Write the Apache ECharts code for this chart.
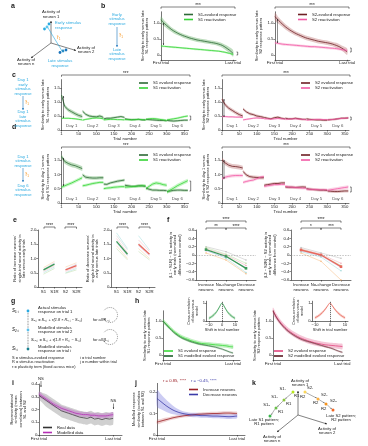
<!DOCTYPE html>
<html><head><meta charset="utf-8">
<script src="https://cdn.jsdelivr.net/npm/echarts/dist/echarts.min.js"></script>
<style>html,body{margin:0;padding:0;background:#fff}#c{width:368px;height:446px}</style>
</head><body><div id="c"></div>
<script>
const FONT = '"Liberation Sans", Arial, sans-serif';
const CYAN = '#29a9e0', ORANGE = '#f7941d';

// ================= DATA =================
// panel b, h, i, j: sample positions (% of trials, first -> last)
const pct = [0,5,10,15,20,25,30,35,40,45,50,55,60,65,70,75,80,85,90,95,100];
const b1Evoked    = [1.10,0.98,0.88,0.79,0.72,0.66,0.61,0.57,0.53,0.50,0.47,0.45,0.43,0.41,0.39,0.37,0.34,0.30,0.23,0.15,0.05];
const b1EvokedSem = [0.10,0.09,0.08,0.07,0.07,0.06,0.06,0.06,0.06,0.06,0.06,0.06,0.06,0.06,0.06,0.06,0.07,0.07,0.08,0.09,0.10];
const b1React     = [0.28,0.27,0.26,0.25,0.24,0.23,0.22,0.21,0.20,0.19,0.18,0.17,0.16,0.15,0.14,0.13,0.12,0.10,0.08,0.05,0.02];
const b1ReactSem  = [0.03,0.03,0.03,0.03,0.03,0.03,0.03,0.03,0.03,0.03,0.03,0.03,0.03,0.03,0.03,0.03,0.03,0.03,0.03,0.03,0.03];
const b2Evoked    = [1.20,1.08,0.97,0.87,0.79,0.72,0.66,0.61,0.56,0.52,0.49,0.46,0.43,0.41,0.39,0.37,0.34,0.30,0.25,0.18,0.10];
const b2EvokedSem = [0.12,0.10,0.09,0.08,0.08,0.07,0.07,0.07,0.07,0.07,0.07,0.07,0.07,0.07,0.07,0.07,0.07,0.08,0.08,0.09,0.10];
const b2React     = [0.38,0.36,0.34,0.33,0.32,0.31,0.30,0.29,0.28,0.27,0.26,0.26,0.25,0.24,0.23,0.22,0.21,0.20,0.18,0.16,0.14];
const b2ReactSem  = [0.04,0.04,0.04,0.04,0.04,0.04,0.04,0.04,0.04,0.04,0.04,0.04,0.04,0.04,0.04,0.04,0.04,0.04,0.04,0.04,0.04];

// panels c, d: six days of 60 trials, sampled at these trials within each day
const dayNames = ['Day 1','Day 2','Day 3','Day 4','Day 5','Day 6'];
const trialsPerDay = 60;
const trialOffsets = [1,10,20,30,40,50,60];
const trialTicks = [1,50,100,150,200,250,300,350];
const c1Evoked = [[1.25,0.85,0.72,0.65,0.58,0.52,0.48],[0.67,0.56,0.50,0.48,0.47,0.50,0.45],[0.40,0.42,0.42,0.44,0.46,0.48,0.45],[0.40,0.38,0.37,0.37,0.38,0.36,0.36],[0.38,0.37,0.36,0.35,0.34,0.34,0.33],[0.34,0.33,0.32,0.33,0.34,0.35,0.35]];
const c1React  = [[0.42,0.42,0.42,0.41,0.40,0.38,0.36],[0.35,0.38,0.40,0.42,0.43,0.42,0.40],[0.36,0.37,0.38,0.38,0.37,0.37,0.36],[0.37,0.37,0.36,0.37,0.38,0.37,0.36],[0.38,0.40,0.41,0.40,0.38,0.36,0.34],[0.36,0.38,0.40,0.42,0.45,0.48,0.50]];
const c1EvokedSem = [0.07,0.05,0.04,0.04,0.04,0.04];
const c1ReactSem  = [0.03,0.03,0.03,0.03,0.04,0.04];
const c2Evoked = [[1.10,0.90,0.78,0.70,0.62,0.55,0.50],[0.75,0.65,0.58,0.55,0.50,0.48,0.45],[0.45,0.42,0.40,0.44,0.46,0.42,0.40],[0.42,0.40,0.40,0.42,0.40,0.38,0.38],[0.40,0.38,0.37,0.36,0.36,0.35,0.35],[0.36,0.37,0.38,0.40,0.42,0.42,0.43]];
const c2React  = [[0.48,0.48,0.47,0.47,0.46,0.46,0.45],[0.36,0.38,0.40,0.42,0.43,0.42,0.41],[0.40,0.40,0.39,0.40,0.41,0.40,0.40],[0.38,0.39,0.40,0.40,0.39,0.38,0.37],[0.35,0.36,0.37,0.38,0.38,0.37,0.37],[0.36,0.37,0.38,0.40,0.41,0.42,0.43]];
const c2EvokedSem = [0.07,0.05,0.04,0.04,0.04,0.04];
const c2ReactSem  = [0.03,0.03,0.03,0.03,0.03,0.03];
const d1Evoked = [[1.62,1.45,1.38,1.33,1.30,1.25,1.20],[0.98,0.90,0.88,0.87,0.87,0.88,0.88],[0.66,0.65,0.70,0.73,0.76,0.78,0.80],[0.62,0.60,0.58,0.58,0.60,0.60,0.58],[0.52,0.48,0.45,0.45,0.44,0.44,0.43],[0.40,0.42,0.44,0.45,0.45,0.44,0.44]];
const d1React  = [[0.55,0.60,0.65,0.70,0.76,0.82,0.88],[0.60,0.62,0.65,0.68,0.70,0.72,0.72],[0.50,0.52,0.53,0.55,0.56,0.57,0.57],[0.55,0.56,0.57,0.58,0.59,0.60,0.60],[0.50,0.58,0.66,0.70,0.68,0.64,0.62],[0.38,0.45,0.52,0.60,0.66,0.72,0.78]];
const d1EvokedSem = [0.08,0.06,0.05,0.05,0.05,0.05];
const d1ReactSem  = [0.06,0.05,0.05,0.05,0.06,0.07];
const d2Evoked = [[1.50,1.40,1.32,1.28,1.27,1.25,1.22],[1.10,0.98,0.92,0.90,0.89,0.88,0.88],[0.62,0.64,0.66,0.68,0.68,0.70,0.70],[0.56,0.55,0.55,0.54,0.55,0.56,0.55],[0.50,0.48,0.47,0.46,0.45,0.45,0.44],[0.42,0.41,0.40,0.40,0.41,0.42,0.42]];
const d2React  = [[0.85,0.90,0.93,0.95,0.96,0.96,0.96],[0.72,0.75,0.78,0.80,0.85,0.90,0.92],[0.58,0.60,0.62,0.64,0.64,0.65,0.65],[0.58,0.56,0.55,0.54,0.53,0.52,0.52],[0.48,0.48,0.47,0.47,0.46,0.46,0.46],[0.44,0.46,0.48,0.50,0.52,0.54,0.56]];
const d2EvokedSem = [0.08,0.06,0.05,0.05,0.05,0.05];
const d2ReactSem  = [0.06,0.05,0.05,0.05,0.05,0.06];

// panel e
const eCats = ['S1','S1R','S2','S2R'];
const e1S1Mice = [[0.50,0.70],[0.55,0.75],[0.62,0.85],[0.68,0.90],[0.45,0.65],[0.58,0.82]];
const e1S2Mice = [[0.50,0.65],[0.55,0.70],[0.62,0.80],[0.70,0.85],[0.48,0.60],[0.60,0.78]];
const e1S1Mean = [0.60,0.80];
const e1S2Mean = [0.60,0.75];
const e2S1Mice = [[1.90,1.35],[1.70,1.20],[1.55,1.10],[1.45,1.00],[1.35,0.95],[1.80,1.30]];
const e2S2Mice = [[1.80,1.30],[1.65,1.25],[1.45,1.10],[1.35,1.00],[1.25,0.95],[1.55,1.15]];
const e2S1Mean = [1.60,1.15];
const e2S2Mean = [1.50,1.15];
const miceColors = ['#9fdcdc','#f3b3bf','#c9b7e3','#f7cc9f','#bcdca8','#cfcfcf'];

// panel f
const fCats = ['Increase\nneurons','No-change\nneurons','Decrease\nneurons'];
const f1Mice = [[0.20,0.08,-0.12],[0.15,0.00,-0.25],[0.10,-0.05,-0.30],[0.05,-0.12,-0.45],[0.12,-0.08,-0.42],[0.18,0.02,-0.20]];
const f1Mean = [0.13,-0.03,-0.32];
const f2Mice = [[0.18,0.05,-0.08],[0.15,0.02,-0.20],[0.10,-0.02,-0.30],[0.05,-0.15,-0.60],[0.08,-0.05,-0.38],[0.14,0.00,-0.25]];
const f2Mean = [0.12,0.00,-0.28];
const fMiceColors = ['#bdbdbd','#f2a7b5','#c5b3e6','#f7b87a','#9fd8d8','#b7dca0'];

// panel h
const h1Evoked    = [1.00,0.90,0.80,0.70,0.62,0.55,0.50,0.46,0.42,0.39,0.36,0.34,0.33,0.32,0.31,0.30,0.29,0.28,0.27,0.25,0.24];
const h1EvokedSem = [0.06,0.06,0.06,0.06,0.06,0.06,0.06,0.06,0.06,0.06,0.06,0.06,0.06,0.06,0.06,0.06,0.06,0.06,0.06,0.06,0.06];
const h1Model     = [1.00,0.88,0.77,0.67,0.59,0.52,0.47,0.43,0.39,0.36,0.33,0.31,0.29,0.27,0.25,0.23,0.20,0.17,0.13,0.09,0.06];
const h1ModelSem  = [0.03,0.03,0.03,0.03,0.03,0.03,0.03,0.03,0.03,0.03,0.03,0.03,0.03,0.03,0.03,0.03,0.03,0.03,0.03,0.03,0.03];
const h2Evoked    = [1.30,1.12,0.98,0.86,0.76,0.68,0.61,0.55,0.50,0.46,0.42,0.39,0.36,0.34,0.32,0.30,0.29,0.28,0.27,0.26,0.25];
const h2EvokedSem = [0.10,0.09,0.08,0.08,0.08,0.08,0.08,0.08,0.08,0.08,0.08,0.08,0.08,0.08,0.08,0.08,0.08,0.08,0.08,0.08,0.08];
const h2Model     = [1.30,1.10,0.95,0.83,0.73,0.65,0.58,0.52,0.47,0.43,0.40,0.37,0.34,0.31,0.28,0.25,0.22,0.19,0.15,0.11,0.08];
const h2ModelSem  = [0.03,0.03,0.03,0.03,0.03,0.03,0.03,0.03,0.03,0.03,0.03,0.03,0.03,0.03,0.03,0.03,0.03,0.03,0.03,0.03,0.03];
const shifts   = [-10,-8,-6,-4,-2,0,2,4,6,8,10];
const xcorr1   = [0.15,0.24,0.36,0.53,0.77,1.00,0.77,0.53,0.36,0.24,0.15];
const xcorr1Sem= [0.08,0.08,0.08,0.07,0.05,0.00,0.05,0.07,0.08,0.08,0.08];
const xcorr2   = [0.18,0.27,0.40,0.57,0.79,1.00,0.79,0.57,0.40,0.27,0.18];
const xcorr2Sem= [0.08,0.08,0.08,0.07,0.05,0.00,0.05,0.07,0.08,0.08,0.08];

// panel i
const iReal     = [0.31,0.29,0.27,0.25,0.23,0.21,0.19,0.18,0.17,0.16,0.15,0.14,0.135,0.13,0.14,0.125,0.13,0.12,0.13,0.125,0.13];
const iRealSem  = [0.03,0.04,0.05,0.05,0.05,0.05,0.05,0.05,0.05,0.05,0.05,0.05,0.05,0.05,0.05,0.05,0.05,0.05,0.05,0.05,0.05];
const iModel    = [0.32,0.30,0.28,0.26,0.24,0.225,0.21,0.20,0.19,0.18,0.17,0.165,0.16,0.16,0.155,0.155,0.15,0.15,0.15,0.155,0.16];
const iModelSem = [0.02,0.02,0.02,0.02,0.02,0.02,0.02,0.02,0.02,0.02,0.02,0.02,0.02,0.02,0.02,0.02,0.02,0.02,0.02,0.02,0.02];
// panel j
const jIncrease    = [0.060,0.065,0.070,0.075,0.080,0.084,0.087,0.090,0.092,0.094,0.096,0.097,0.098,0.099,0.100,0.100,0.101,0.102,0.102,0.101,0.100];
const jIncreaseSem = [0.010,0.010,0.010,0.008,0.008,0.008,0.008,0.008,0.008,0.008,0.008,0.008,0.008,0.008,0.008,0.008,0.008,0.008,0.008,0.008,0.008];
const jDecrease    = [0.170,0.155,0.140,0.127,0.116,0.108,0.102,0.098,0.095,0.093,0.092,0.090,0.090,0.089,0.088,0.088,0.087,0.086,0.085,0.086,0.088];
const jDecreaseSem = [0.040,0.035,0.030,0.025,0.020,0.015,0.012,0.010,0.010,0.010,0.010,0.010,0.010,0.010,0.010,0.010,0.010,0.010,0.010,0.010,0.010];

// ================= HELPERS =================
function merge(a, b) {
  const o = Object.assign({}, a);
  for (const k in b) {
    if (b[k] && typeof b[k] === 'object' && !Array.isArray(b[k]) && a[k] && typeof a[k] === 'object' && !Array.isArray(a[k])) o[k] = merge(a[k], b[k]);
    else o[k] = b[k];
  }
  return o;
}
const AX = {
  axisLine: {show: true, onZero: false, lineStyle: {color: '#1a1a1a', width: 0.6}},
  axisTick: {show: true, length: 1.6, lineStyle: {color: '#1a1a1a', width: 0.5}},
  axisLabel: {fontSize: 4.3, color: '#1a1a1a', fontFamily: FONT, margin: 1.5},
  splitLine: {show: false},
  nameTextStyle: {fontSize: 4, color: '#1a1a1a', fontFamily: FONT, lineHeight: 4.6}
};
const grids = [], xAxes = [], yAxes = [], series = [], legends = [], G = [];
function panel(rect, xa, ya) {
  grids.push(Object.assign({containLabel: false}, rect));
  const gi = grids.length - 1;
  xAxes.push(merge(AX, Object.assign({gridIndex: gi}, xa)));
  yAxes.push(merge(AX, Object.assign({gridIndex: gi}, ya)));
  return gi;
}
function lineS(gi, name, pts, color, w, extra) {
  return Object.assign({type: 'line', name, xAxisIndex: gi, yAxisIndex: gi, data: pts, symbol: 'none', showSymbol: false,
    lineStyle: {color, width: w}, itemStyle: {color}, connectNulls: false, z: 3, silent: true}, extra || {});
}
function bandS(gi, segs, fill, smooth) {
  const flat = [];
  segs.forEach(seg => seg.forEach(p => flat.push(p)));
  return {type: 'custom', xAxisIndex: gi, yAxisIndex: gi, silent: true, z: 1, data: flat,
    encode: {x: 0, y: [1, 2]},
    renderItem: (params, api) => {
      if (params.dataIndex !== 0) return null;
      return {type: 'group', children: segs.map(seg => {
        const top = seg.map(p => api.coord([p[0], p[2]]));
        const bot = seg.map(p => api.coord([p[0], p[1]])).reverse();
        return {type: 'polygon', shape: {points: top.concat(bot), smooth: smooth || 0}, style: {fill}};
      })};
    }};
}
const curve = (xs, ys) => xs.map((x, i) => [x, ys[i]]);
const curveBand = (xs, ys, e) => [xs.map((x, i) => [x, ys[i] - e[i], ys[i] + e[i]])];
function dayLine(arr) {
  const pts = [];
  arr.forEach((day, d) => { day.forEach((v, k) => pts.push([d * trialsPerDay + trialOffsets[k], v])); pts.push([d * trialsPerDay + trialsPerDay + 0.5, '-']); });
  return pts;
}
const dayBand = (arr, sem) => arr.map((day, d) => day.map((v, k) => [d * trialsPerDay + trialOffsets[k], v - sem[d], v + sem[d]]));
function legendAt(left, top, names) {
  legends.push({left, top, orient: 'vertical', data: names, itemWidth: 9, itemHeight: 1.6, itemGap: 1, icon: 'rect', padding: 0,
    selectedMode: false, textStyle: {fontSize: 4.2, fontFamily: FONT, color: '#1a1a1a'}});
}
// graphic helpers
function txt(x, y, s, o) {
  G.push({type: 'text', x, y, z: 100, silent: true, style: Object.assign({text: s, fontSize: 4.2, fontFamily: FONT, fill: '#1a1a1a', align: 'left', verticalAlign: 'middle', lineHeight: 4.6}, o || {})});
}
function ln(x1, y1, x2, y2, o) {
  G.push({type: 'line', z: 100, silent: true, shape: {x1, y1, x2, y2}, style: Object.assign({stroke: '#1a1a1a', lineWidth: 0.55}, o || {})});
}
function head(x1, y1, x2, y2, color, s) {
  const a = Math.atan2(y2 - y1, x2 - x1); s = s || 2.2;
  G.push({type: 'polygon', z: 100, silent: true, shape: {points: [[x2, y2], [x2 - s * Math.cos(a - 0.45), y2 - s * Math.sin(a - 0.45)], [x2 - s * Math.cos(a + 0.45), y2 - s * Math.sin(a + 0.45)]]}, style: {fill: color}});
}
function arrow(x1, y1, x2, y2, color, w, s) { ln(x1, y1, x2, y2, {stroke: color || '#1a1a1a', lineWidth: w || 0.55}); head(x1, y1, x2, y2, color || '#1a1a1a', s); }
function dblArrow(x, y1, y2) { ln(x, y1, x, y2, {lineWidth: 0.5}); head(x, y2, x, y1, '#111', 1.6); head(x, y1, x, y2, '#111', 1.6); }
function dot(cx, cy, fill, r) { G.push({type: 'circle', z: 100, silent: true, shape: {cx, cy, r: r || 1.4}, style: {fill}}); }
function bracket(x1, x2, y, label) { ln(x1, y, x2, y); ln(x1, y, x1, y + 1.8); ln(x2, y, x2, y + 1.8); txt((x1 + x2) / 2, y - 1.6, label, {align: 'center', fontSize: 4.6}); }
function endBracket(x, y1, y2) { ln(x, y1, x + 1.2, y1); ln(x + 1.2, y1, x + 1.2, y2); ln(x, y2, x + 1.2, y2); }
function letter(x, y, s) { txt(x, y, s, {fontWeight: 'bold', fontSize: 7}); }

const firstLast = {min: 0, axisTick: {customValues: [0, 100]}, axisLabel: {customValues: [0, 100], formatter: v => v === 0 ? 'First trial' : 'Last trial'}};
const simTicks = {axisTick: {customValues: [0, 0.5, 1]}, axisLabel: {customValues: [0, 0.5, 1], formatter: v => v === 0 ? '0' : v.toFixed(1)}};
const dayTicks = {axisTick: {customValues: [0, 0.5, 1, 1.5]}, axisLabel: {customValues: [0, 0.5, 1, 1.5], formatter: v => v === 0 ? '0' : v.toFixed(1)}};
const trialAxis = {type: 'value', min: 1, max: 362, name: 'Trial number', nameLocation: 'middle', nameGap: 6.5, nameTextStyle: {fontSize: 4.3},
  axisTick: {customValues: trialTicks}, axisLabel: {customValues: trialTicks}};

const S1E = '#2d6a36', S1R = '#35d435', S2E = '#6e1f24', S2R = '#f25aa6';
const S1Eb = 'rgba(110,180,110,0.45)', S1Rb = 'rgba(90,230,90,0.35)', S2Eb = 'rgba(190,120,120,0.42)', S2Rb = 'rgba(245,140,190,0.38)';

// ================= PANEL b =================
[[161, 'S1', b1Evoked, b1EvokedSem, b1React, b1ReactSem, S1E, S1Eb, S1R, S1Rb], [275, 'S2', b2Evoked, b2EvokedSem, b2React, b2ReactSem, S2E, S2Eb, S2R, S2Rb]].forEach(c => {
  const gi = panel({left: c[0], top: 11.8, width: 75, height: 48},
    Object.assign({type: 'value', max: 104}, firstLast),
    Object.assign({type: 'value', min: -0.15, max: 1.35, name: 'Similarity to early versus late\n' + c[1] + ' response pattern', nameLocation: 'middle', nameRotate: 90, nameGap: 9}, simTicks));
  series.push(bandS(gi, curveBand(pct, c[2], c[3]), c[7], 0.3));
  series.push(bandS(gi, curveBand(pct, c[4], c[5]), c[9], 0.3));
  series.push(lineS(gi, c[1] + '-evoked response', curve(pct, c[2]), c[6], 0.8, {smooth: 0.3}));
  series.push(lineS(gi, c[1] + ' reactivation', curve(pct, c[4]), c[8], 0.8, {smooth: 0.3}));
  legendAt(c[0] + 23, 12.5, [c[1] + '-evoked response', c[1] + ' reactivation']);
});

// ================= PANELS c, d =================
[[61.5, 79.6, 50.4, 'S1', c1Evoked, c1EvokedSem, c1React, c1ReactSem, S1E, S1Eb, S1R, S1Rb, 'Similarity to early versus late\nS1 response pattern', 139, 81],
 [222, 79.6, 50.4, 'S2', c2Evoked, c2EvokedSem, c2React, c2ReactSem, S2E, S2Eb, S2R, S2Rb, 'Similarity to early versus late\nS2 response pattern', 301, 81],
 [61.5, 151.4, 51.6, 'S1', d1Evoked, d1EvokedSem, d1React, d1ReactSem, S1E, S1Eb, S1R, S1Rb, 'Similarity to day 1 versus\nday 6 S1 response pattern', 139, 153],
 [222, 151.4, 51.6, 'S2', d2Evoked, d2EvokedSem, d2React, d2ReactSem, S2E, S2Eb, S2R, S2Rb, 'Similarity to day 1 versus\nday 6 S2 response pattern', 301, 153]].forEach(c => {
  const gi = panel({left: c[0], top: c[1], width: 127, height: c[2]}, trialAxis,
    Object.assign({type: 'value', min: 0, max: 1.8, name: c[12], nameLocation: 'middle', nameRotate: 90, nameGap: 9}, dayTicks));
  series.push(bandS(gi, dayBand(c[4], c[5]), c[9]));
  series.push(bandS(gi, dayBand(c[6], c[7]), c[11]));
  series.push(lineS(gi, c[3] + ' evoked response', dayLine(c[4]), c[8], 0.8));
  series.push(lineS(gi, c[3] + ' reactivation', dayLine(c[6]), c[10], 0.8));
  series.push({type: 'scatter', xAxisIndex: gi, yAxisIndex: gi, silent: true, symbolSize: 1, itemStyle: {color: 'rgba(0,0,0,0)'},
    data: dayNames.map((n, d) => [d * trialsPerDay + 30, 0.15]),
    label: {show: true, position: 'inside', formatter: p => dayNames[p.dataIndex], fontSize: 4.3, color: '#1a1a1a', fontFamily: FONT}});
  legendAt(c[13], c[14], [c[3] + ' evoked response', c[3] + ' reactivation']);
});

// ================= PANEL e =================
[[38, 'Ratio of increase neurons\'\nsingle-trial neural activity in\nlate versus early trials', e1S1Mice, e1S2Mice, e1S1Mean, e1S2Mean],
 [111, 'Ratio of decrease neurons\'\nsingle-trial neural activity in\nearly versus late trials', e2S1Mice, e2S2Mice, e2S1Mean, e2S2Mean]].forEach(c => {
  const gi = panel({left: c[0], top: 230, width: 44, height: 57},
    {type: 'category', data: eCats, boundaryGap: true, axisTick: {alignWithLabel: true, interval: 0}, axisLabel: {margin: 2.5, interval: 0}},
    {type: 'value', min: 0, max: 2, interval: 0.5, name: c[1], nameLocation: 'middle', nameRotate: 90, nameGap: 10, axisLabel: {formatter: v => v === 0 ? '0' : v.toFixed(1)}});
  c[2].forEach((m, k) => series.push(lineS(gi, 'mouse', [m[0], m[1], '-', '-'], miceColors[k], 0.5, {z: 2})));
  c[3].forEach((m, k) => series.push(lineS(gi, 'mouse', ['-', '-', m[0], m[1]], miceColors[k], 0.5, {z: 2})));
  series.push(lineS(gi, 'S1 mean', [c[4][0], c[4][1], '-', '-'], '#3a9a57', 1.3, {z: 4}));
  series.push(lineS(gi, 'S2 mean', ['-', '-', c[5][0], c[5][1]], '#e8685c', 1.3, {z: 4}));
});
bracket(44, 55, 227, '****'); bracket(65, 76.5, 227, '****');
bracket(117, 128, 227, '****'); bracket(139, 150, 227, '****');

// ================= PANEL f =================
[[196, f1Mice, f1Mean, '#3a9a57', '(L1 − S1R) − S1 activity in\nearly trials (normalized\ndifference from control)'],
 [291, f2Mice, f2Mean, '#e8685c', '(L2 − S2R) − S2 activity in\nearly trials (normalized\ndifference from control)']].forEach(c => {
  const gi = panel({left: c[0], top: 230, width: 60, height: 50},
    {type: 'category', data: fCats, boundaryGap: true, axisTick: {alignWithLabel: true, interval: 0}, axisLabel: {margin: 2.5, lineHeight: 4.6, fontSize: 4.2, interval: 0, hideOverlap: false}},
    {type: 'value', min: -0.6, max: 0.6, name: c[4], nameLocation: 'middle', nameRotate: 90, nameGap: 11,
      axisTick: {customValues: [-0.6, -0.4, -0.2, 0, 0.2, 0.4, 0.6]},
      axisLabel: {customValues: [-0.6, -0.4, -0.2, 0, 0.2, 0.4, 0.6], formatter: v => Math.abs(v) < 1e-9 ? '0' : v.toFixed(1).replace('-', '−')}});
  c[1].forEach((m, k) => series.push(lineS(gi, 'mouse', m, fMiceColors[k], 0.5, {z: 2, symbol: 'circle', showSymbol: true, symbolSize: 1.5})));
  series.push(lineS(gi, 'mean', c[2], c[3], 1.3, {z: 4, symbol: 'rect', showSymbol: true, symbolSize: 2.6,
    markLine: {silent: true, symbol: ['none', 'none'], label: {show: false}, lineStyle: {type: [1.5, 1.2], color: '#8a8a8a', width: 0.5}, data: [{yAxis: 0}]}}));
});
bracket(206, 246, 221, '****'); bracket(206, 226, 228, '**'); bracket(226, 246, 228, '****');
bracket(301, 341, 221, '****'); bracket(301, 321, 228, '*'); bracket(321, 341, 228, '***');

// ================= PANEL h =================
[[163, 110, 'S1', h1Evoked, h1EvokedSem, h1Model, h1ModelSem, '#3adb3a', 'rgba(100,220,100,0.4)', '#1f5d2c', 'rgba(60,120,70,0.22)', 164, 349],
 [273, 111, 'S2', h2Evoked, h2EvokedSem, h2Model, h2ModelSem, '#e2467f', 'rgba(230,120,160,0.42)', '#5a1a22', 'rgba(110,40,50,0.2)', 274, 349]].forEach(c => {
  const gi = panel({left: c[0], top: 310.8, width: 77, height: 49.3},
    Object.assign({type: 'value', max: c[1]}, firstLast),
    Object.assign({type: 'value', min: -0.15, max: 1.3, name: 'Similarity to early versus late\n' + c[2] + ' response pattern', nameLocation: 'middle', nameRotate: 90, nameGap: 9}, simTicks));
  series.push(bandS(gi, curveBand(pct, c[3], c[4]), c[8], 0.3));
  series.push(bandS(gi, curveBand(pct, c[5], c[6]), c[10], 0.3));
  series.push(lineS(gi, c[2] + ' evoked response ', curve(pct, c[3]), c[7], 0.8, {smooth: 0.3}));
  series.push(lineS(gi, c[2] + ' modelled evoked response', curve(pct, c[5]), c[9], 0.6, {smooth: 0.3}));
  legendAt(c[11], c[12], [c[2] + ' evoked response ', c[2] + ' modelled evoked response']);
});
// insets
[[206.4, 31.2, xcorr1, xcorr1Sem, '#3a9a57', 'rgba(120,200,130,0.45)'], [312, 36, xcorr2, xcorr2Sem, '#e8685c', 'rgba(240,150,140,0.45)']].forEach(c => {
  const gi = panel({left: c[0], top: 301.2, width: c[1], height: 19.8},
    {type: 'value', min: -12, max: 12, name: 'Shift in trial number', nameLocation: 'middle', nameGap: 6, nameTextStyle: {fontSize: 4},
      axisTick: {customValues: [-10, 0, 10]}, axisLabel: {customValues: [-10, 0, 10], formatter: v => String(v).replace('-', '−'), fontSize: 4}},
    {type: 'value', min: 0, max: 1.1, name: 'Cross-correlation\nof data versus\nmodel', nameLocation: 'middle', nameRotate: 90, nameGap: 4.5, nameTextStyle: {fontSize: 3.6, lineHeight: 4},
      axisTick: {customValues: [0, 1]}, axisLabel: {customValues: [0, 1], fontSize: 4}});
  series.push(bandS(gi, curveBand(shifts, c[2], c[3]), c[5], 0.3));
  series.push(lineS(gi, 'xcorr', curve(shifts, c[2]), c[4], 0.8, {smooth: 0.3,
    markLine: {silent: true, symbol: ['none', 'none'], label: {show: false}, lineStyle: {type: [1.2, 0.8], color: '#111', width: 0.6}, data: [{xAxis: 0}]}}));
});

// ================= PANEL i =================
(() => {
  const gi = panel({left: 39, top: 384, width: 83, height: 51},
    Object.assign({type: 'value', max: 112}, firstLast),
    {type: 'value', min: 0, max: 0.4, interval: 0.1, name: 'Representational\nsimilarity (mean\ncorrelation) between\nS1 and S2', nameLocation: 'middle', nameRotate: 90, nameGap: 8.5,
      axisLabel: {formatter: v => v === 0 ? '0' : v.toFixed(1)}});
  series.push(bandS(gi, curveBand(pct, iReal, iRealSem), 'rgba(150,150,150,0.45)', 0.2));
  series.push(bandS(gi, curveBand(pct, iModel, iModelSem), 'rgba(190,100,200,0.4)', 0.3));
  series.push(lineS(gi, 'Real data', curve(pct, iReal), '#333333', 0.7));
  series.push(lineS(gi, 'Modelled data', curve(pct, iModel), '#b52fb5', 0.8, {smooth: 0.3}));
  legendAt(43, 425.5, ['Real data', 'Modelled data']);
})();

// ================= PANEL j =================
(() => {
  const gi = panel({left: 157, top: 383.4, width: 88, height: 51.6},
    Object.assign({type: 'value', max: 110}, firstLast),
    {type: 'value', min: 0, max: 0.24, name: 'Modelled response\nsimilarity (correlation\nbetween S1 and S2)', nameLocation: 'middle', nameRotate: 90, nameGap: 8.5,
      axisTick: {customValues: [0, 0.1, 0.2]}, axisLabel: {customValues: [0, 0.1, 0.2], formatter: v => v === 0 ? '0' : v.toFixed(1)}});
  series.push(bandS(gi, curveBand(pct, jIncrease, jIncreaseSem), 'rgba(200,100,100,0.3)', 0.3));
  series.push(bandS(gi, curveBand(pct, jDecrease, jDecreaseSem), 'rgba(110,110,220,0.35)', 0.3));
  series.push(lineS(gi, 'Increase neurons', curve(pct, jIncrease), '#9b1f26', 0.8, {smooth: 0.3}));
  series.push(lineS(gi, 'Decrease neurons', curve(pct, jDecrease), '#3b3ba8', 0.8, {smooth: 0.3}));
  legendAt(189, 387.5, ['Increase neurons', 'Decrease neurons']);
})();

// ================= ANNOTATIONS / SCHEMATICS =================
letter(11, 6, 'a'); letter(101, 6, 'b'); letter(12, 75, 'c'); letter(12, 127, 'd'); letter(13, 220, 'e');
letter(167, 220, 'f'); letter(11, 301, 'g'); letter(135, 301, 'h'); letter(12, 383, 'i'); letter(135, 383, 'j'); letter(252, 383, 'k');

// panel a
arrow(51, 43, 51, 21); arrow(51, 43, 76, 50.5); arrow(51, 43, 31, 58);
txt(51, 14.5, 'Activity of\nneuron 1', {align: 'center'});
txt(86, 50, 'Activity of\nneuron 2', {align: 'center'});
txt(26, 62, 'Activity of\nneuron n', {align: 'center'});
ln(47.5, 27, 62, 51, {stroke: CYAN, lineWidth: 0.6});
dot(49, 24, CYAN); dot(47, 27, '#5bc8ef'); dot(44.5, 29, CYAN);
dot(60, 52.5, '#1b75bc'); dot(63, 51, '#2a8fc7'); dot(66, 50, '#1b75bc');
txt(55, 25.5, 'Early stimulus\nresponse', {fill: CYAN});
txt(60, 63.5, 'Late stimulus\nresponse', {fill: CYAN, align: 'center'});
txt(57, 38, 'r̄₁', {fill: ORANGE, fontSize: 5});
// panel b schematic
txt(117, 19, 'Early\nstimulus\nresponse', {fill: CYAN, align: 'center'});
arrow(117, 27, 117, 47, '#1b75bc', 0.6);
txt(119.5, 36, 'r̄₁', {fill: ORANGE, fontSize: 5});
txt(117, 54, 'Late\nstimulus\nresponse', {fill: CYAN, align: 'center'});
// panel c schematic
txt(23, 87, 'Day 1\nearly\nstimulus\nresponse', {fill: CYAN, align: 'center'});
arrow(23, 96, 23, 110, '#1b75bc', 0.6);
txt(25.5, 103, 'r̄₁', {fill: ORANGE, fontSize: 5});
txt(23, 119, 'Day 1\nlate\nstimulus\nresponse', {fill: CYAN, align: 'center'});
// panel d schematic
txt(23, 161, 'Day 1\nstimulus\nresponse', {fill: CYAN, align: 'center'});
arrow(23, 168, 23, 182, '#1b75bc', 0.6);
txt(25.5, 175, 'r̄₁', {fill: ORANGE, fontSize: 5});
txt(23, 190, 'Day 6\nstimulus\nresponse', {fill: CYAN, align: 'center'});

// significance brackets
bracket(161, 235, 7, '***'); bracket(275, 349, 7, '***');
bracket(61.5, 190, 75, '***'); bracket(222, 350, 75, '***');
bracket(61.5, 190, 147, '***'); bracket(222, 350, 147, '***');
// difference arrows
dblArrow(163.5, 23, 45); dblArrow(277.5, 19, 43);
dblArrow(63.5, 96, 118); dblArrow(224, 99, 117);
dblArrow(63.5, 158, 186); dblArrow(224, 160, 179);
endBracket(236.5, 52, 55); endBracket(350, 48, 52);
endBracket(189.5, 116, 120); endBracket(350, 117, 120);
endBracket(189.5, 181, 191); endBracket(350, 187, 192);

// panel g
txt(12, 311, 'S₁,ⱼ', {fontStyle: 'italic', fontSize: 4.6});
dot(28, 311, CYAN);
txt(38, 310, 'Actual stimulus\nresponse on trial 1', {align: 'left'});
txt(31, 320, 'S₂,ⱼ = S₁,ⱼ + τ(1.8 × R₁,ⱼ − S₁,ⱼ)', {fontStyle: 'italic', fontSize: 3.9});
txt(93, 320, 'for all R₁,ⱼ', {fontSize: 3.9});
txt(12, 330, 'S₂,ⱼ', {fontStyle: 'italic', fontSize: 4.6});
dot(28, 330, '#5bc0eb');
txt(38, 330, 'Modelled stimulus\nresponse on trial 2');
txt(31, 340, 'Sᵢ₊₁,ⱼ = Sᵢ,ⱼ + τ(1.8 × Rᵢ,ⱼ − Sᵢ,ⱼ)', {fontStyle: 'italic', fontSize: 3.9});
txt(93, 340, 'for all Rᵢ,ⱼ', {fontSize: 3.9});
txt(12, 349, 'Sᵢ,ⱼ', {fontStyle: 'italic', fontSize: 4.6});
dot(28, 349, '#1a7f8e');
txt(38, 349, 'Modelled stimulus\nresponse on trial i');
ln(28, 313, 28, 328, {lineDash: [0.8, 0.8]}); ln(28, 332, 28, 347, {lineDash: [0.8, 0.8]});
[[110, 315], [110, 337]].forEach(p => {
  G.push({type: 'arc', z: 100, silent: true, shape: {cx: p[0], cy: p[1], r: 7.5, startAngle: -Math.PI + 0.7, endAngle: Math.PI - 0.7, clockwise: true},
    style: {stroke: '#333', fill: 'none', lineWidth: 0.5, lineDash: [1, 0.9]}});
  head(p[0] - 5.5, p[1] + 4.5, p[0] - 6.6, p[1] + 3.5, '#333', 1.8);
});
txt(12, 357.5, 'S = stimulus-evoked response', {fontSize: 3.9});
txt(80, 357.5, 'i = trial number', {fontSize: 3.9});
txt(12, 362, 'R = stimulus reactivation', {fontSize: 3.9});
txt(80, 362, 'j = number within trial', {fontSize: 3.9});
txt(12, 366.5, 'τ = plasticity term (fixed across mice)', {fontSize: 3.9});

// panel i / j annotations
txt(41, 378.5, 'NS', {align: 'center'}); arrow(41, 381, 41, 387, '#1a1a1a', 0.5, 1.6);
txt(113.5, 401, 'NS', {align: 'center'}); arrow(113.5, 403.5, 113.5, 409, '#1a1a1a', 0.5, 1.6);
txt(163, 381, 'r = 0.85, ****', {fill: '#9b1f26', fontSize: 4.2});
txt(191, 381, 'r = −0.45, ****', {fill: '#3b3ba8', fontSize: 4.2});

// panel k
arrow(298, 415, 298, 391); arrow(298, 415, 327, 424); arrow(298, 415, 277, 432);
txt(300, 383, 'Activity of\nneuron 1', {align: 'center'});
txt(327, 431, 'Activity of\nneuron 2', {align: 'center'});
txt(272, 439, 'Activity of\nneuron n', {align: 'center'});
[[293, 392, '#b8e61d'], [284, 400, '#8cc63f'], [276, 408, '#6abf4b'], [270, 416, '#39b54a']].forEach((p, k, a) => {
  dot(p[0], p[1], p[2], 1.5);
  if (k < a.length - 1) arrow(p[0] - 1.2, p[1] + 1.2, a[k + 1][0] + 1.4, a[k + 1][1] - 1.3, '#333', 0.4, 1.3);
});
[[305, 392, '#fbd75b'], [318, 399, '#fbb040'], [326, 404, '#f7941d'], [333, 410, '#f26522']].forEach((p, k, a) => {
  dot(p[0], p[1], p[2], 1.5);
  if (k < a.length - 1) arrow(p[0] + 1.3, p[1] + 0.8, a[k + 1][0] - 1.4, a[k + 1][1] - 0.9, '#333', 0.4, 1.3);
});
txt(286, 389, 'S1₁', {align: 'right'}); txt(294, 396, 'R1', {});
txt(278, 397, 'S1₂', {align: 'right'}); txt(286, 404, 'R1', {});
txt(270, 405, 'S1₃', {align: 'right'}); txt(278, 412, 'R1', {});
txt(264, 422, 'Late S1 pattern;\nR1 pattern', {align: 'center'});
txt(307, 388, 'S2₁', {}); txt(300, 397, 'R2', {});
txt(321, 395, 'S2₂', {}); txt(313, 403, 'R2', {});
txt(330, 401, 'S2₃', {}); txt(321, 408.5, 'R2', {});
txt(341, 418, 'Late S2 pattern;\nR2 pattern', {align: 'center'});

// ================= RENDER =================
const chart = echarts.init(document.getElementById('c'), null, {renderer: 'canvas', width: 368, height: 446});
chart.setOption({
  animation: false,
  textStyle: {fontFamily: FONT},
  grid: grids, xAxis: xAxes, yAxis: yAxes, series, legend: legends,
  graphic: {elements: G}
});
</script></body></html>
